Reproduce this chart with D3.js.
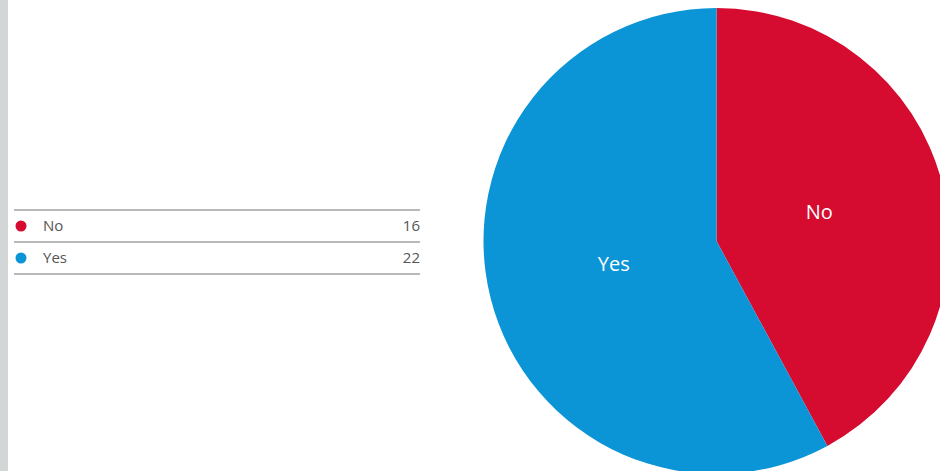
<!DOCTYPE html>
<html lang="en">
<head>
  <meta charset="UTF-8">
  <title>Yes / No</title>
  <script src="https://d3js.org/d3.v7.min.js"></script>
  <style>
    body { margin: 0; font-family: "Open Sans", sans-serif; background: #fff; overflow: hidden; }
    svg { display: block; }
  </style>
</head>
<body>
  <div id="vis"></div>
  <script>
    const categories = ["No", "Yes"];
    const values = [16, 22];
    const colors = ["#d60b30", "#0b95d6"];

    const width = 940, height = 471;
    const svg = d3.select("#vis").append("svg")
      .attr("width", width)
      .attr("height", height);

    // grey strip on the left edge
    svg.append("rect")
      .attr("x", 0).attr("y", 0)
      .attr("width", 8).attr("height", height)
      .attr("fill", "#d3d6d6");

    // legend table
    const data = categories.map((c, i) => ({ label: c, value: values[i], color: colors[i] }));
    const rowH = 32, tableTop = 210, tableLeft = 14, tableRight = 420;
    const y = d3.scaleBand().domain(categories).range([tableTop, tableTop + rowH * categories.length]);

    const lg = svg.append("g");
    lg.selectAll("line")
      .data(d3.range(categories.length + 1))
      .enter().append("line")
      .attr("x1", tableLeft).attr("x2", tableRight)
      .attr("y1", i => tableTop + i * rowH)
      .attr("y2", i => tableTop + i * rowH)
      .attr("stroke", "#b9b9b9")
      .attr("stroke-width", 2);

    const rows = lg.selectAll("g.row")
      .data(data)
      .enter().append("g")
      .attr("class", "row")
      .attr("transform", d => `translate(0,${y(d.label) + y.bandwidth() / 2})`);

    rows.append("circle")
      .attr("cx", 21).attr("cy", 0).attr("r", 5.5)
      .attr("fill", d => d.color);

    rows.append("text")
      .attr("x", 43).attr("dy", "0.35em")
      .attr("fill", "#555")
      .style("font-size", "15px")
      .text(d => d.label);

    rows.append("text")
      .attr("x", tableRight).attr("dy", "0.35em")
      .attr("text-anchor", "end")
      .attr("fill", "#555")
      .style("font-size", "15px")
      .text(d => d.value);

    // pie
    const radius = 233;
    const cx = 716.5, cy = 241;
    const pie = d3.pie().sort(null).value(d => d.value);
    const arc = d3.arc().innerRadius(0).outerRadius(radius);
    const labelArc = d3.arc().innerRadius(106).outerRadius(106);

    const pg = svg.append("g").attr("transform", `translate(${cx},${cy})`);
    const slices = pg.selectAll("g.slice")
      .data(pie(data))
      .enter().append("g")
      .attr("class", "slice");

    slices.append("path")
      .attr("d", arc)
      .attr("fill", d => d.data.color);

    slices.append("text")
      .attr("transform", d => `translate(${labelArc.centroid(d)})`)
      .attr("text-anchor", "middle")
      .attr("dy", "0.2em")
      .attr("fill", "#fff")
      .style("font-size", "20px")
      .text(d => d.data.label);
  </script>
</body>
</html>
